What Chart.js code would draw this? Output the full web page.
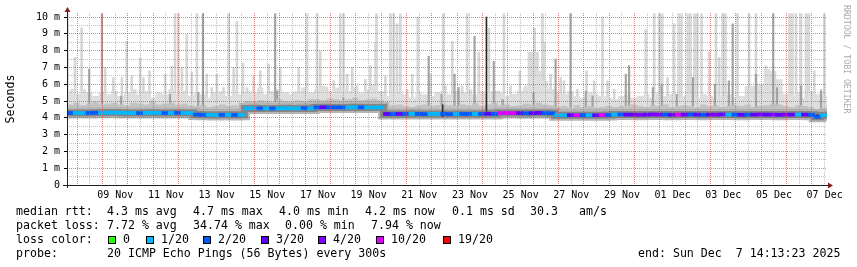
<!DOCTYPE html>
<html>
<head>
<meta charset="utf-8">
<script src="https://cdn.jsdelivr.net/npm/chart.js@4/dist/chart.umd.min.js"></script>
<style>
  body { margin: 0; background: #fff; }
  #wrap { position: relative; width: 857px; height: 267px; font-family: 'DejaVu Sans Mono', monospace; color: #000; }
  #chart { position: absolute; left: 0; top: 0; }
  .t { position: absolute; font-size: 11.6px; line-height: 14px; white-space: pre; }
  .box { position: absolute; top: 236px; width: 6px; height: 6px; border: 1px solid #000; }
  #mark { position: absolute; left: 842px; top: 5px; writing-mode: vertical-rl; font-size: 8.2px; line-height: 10px; color: #aaa; white-space: pre; }
</style>
</head>
<body>
<div id="wrap">
  <canvas id="chart" width="857" height="267"></canvas>
  <div id="mark">RRDTOOL / TOBI OETIKER</div>

  <span class="t" style="left:16px;top:204px">median rtt:</span>
  <span class="t" style="left:107px;top:204px">4.3 ms avg</span>
  <span class="t" style="left:193px;top:204px">4.7 ms max</span>
  <span class="t" style="left:279px;top:204px">4.0 ms min</span>
  <span class="t" style="left:365px;top:204px">4.2 ms now</span>
  <span class="t" style="left:452px;top:204px">0.1 ms sd</span>
  <span class="t" style="left:530px;top:204px">30.3</span>
  <span class="t" style="left:579px;top:204px">am/s</span>

  <span class="t" style="left:16px;top:218px">packet loss:</span>
  <span class="t" style="left:107px;top:218px">7.72 % avg</span>
  <span class="t" style="left:193px;top:218px">34.74 % max</span>
  <span class="t" style="left:285px;top:218px">0.00 % min</span>
  <span class="t" style="left:371px;top:218px">7.94 % now</span>

  <span class="t" style="left:16px;top:232px">loss color:</span>
  <div id="lossLegend"></div>

  <span class="t" style="left:16px;top:246px">probe:</span>
  <span class="t" style="left:107px;top:246px">20 ICMP Echo Pings (56 Bytes) every 300s</span>
  <span class="t" style="left:638px;top:246px">end: Sun Dec  7 14:13:23 2025</span>
</div>

<script>
// time axis: days after 07 Nov 00:00; samples every 6 h from 07 Nov 14:13
const startDay = 0.593;
const endDay = 30.593;
const stepDays = 0.25;

const xTickLabels = ['09 Nov', '11 Nov', '13 Nov', '15 Nov', '17 Nov', '19 Nov', '21 Nov', '23 Nov',
  '25 Nov', '27 Nov', '29 Nov', '01 Dec', '03 Dec', '05 Dec', '07 Dec'];
const firstLabelDay = 2.5; // noon of 09 Nov
const yTickLabels = ['0', '1 m', '2 m', '3 m', '4 m', '5 m', '6 m', '7 m', '8 m', '9 m', '10 m'];

// median rtt (ms), one value per 6 h
const medianRtt = [
  4.29, 4.29, 4.28, 4.29, 4.30, 4.30, 4.31, 4.31, 4.30, 4.29,
  4.29, 4.28, 4.29, 4.30, 4.29, 4.28, 4.29, 4.30, 4.29, 4.28,
  4.19, 4.18, 4.18, 4.17, 4.18, 4.18, 4.17, 4.18,
  4.56, 4.57, 4.56, 4.56, 4.55, 4.56, 4.57, 4.56, 4.56, 4.57, 4.56,
  4.62, 4.63, 4.62, 4.62, 4.61, 4.62, 4.63, 4.62, 4.62, 4.61, 4.62,
  4.23, 4.22, 4.23, 4.23, 4.24, 4.23, 4.22, 4.23, 4.23, 4.23,
  4.22, 4.22, 4.23, 4.23, 4.22, 4.23, 4.24, 4.23,
  4.28, 4.29, 4.28, 4.28, 4.27, 4.28, 4.29, 4.28, 4.27,
  4.16, 4.15, 4.16, 4.15, 4.16, 4.15, 4.15, 4.16, 4.17,
  4.19, 4.20, 4.19, 4.19, 4.18, 4.19, 4.20, 4.19, 4.19, 4.18,
  4.19, 4.19, 4.20, 4.19, 4.18, 4.19, 4.19, 4.20, 4.19, 4.19,
  4.18, 4.19, 4.19, 4.20, 4.19, 4.19, 4.18, 4.19, 4.19, 4.20, 4.19,
  4.18, 4.06, 4.15, 4.15
];

// lost pings out of 20 for each 6 h step
const medianLoss = [
  2, 1, 1, 2, 2, 1, 1, 1, 1, 1,
  1, 2, 1, 1, 1, 2, 1, 2, 1, 1,
  2, 2, 1, 1, 2, 1, 2, 1, 1, 1,
  2, 1, 2, 1, 1, 1, 1, 2, 1, 2,
  3, 2, 2, 2, 1, 1, 2, 1, 1, 1,
  3, 2, 3, 2, 1, 2, 2, 1, 1, 2,
  2, 1, 2, 2, 1, 2, 3, 2, 10, 10,
  10, 3, 2, 3, 3, 2, 2, 1, 1, 3,
  10, 2, 1, 3, 10, 2, 1, 2, 3, 3,
  4, 3, 4, 4, 2, 3, 10, 3, 2, 3,
  2, 3, 4, 3, 1, 2, 3, 2, 3, 4,
  3, 4, 3, 4, 3, 1, 3, 2, 2, 1
];

// smoke: denser (darker) part and light part, top edge per 6 h (ms)
const smokeMid = [
  4.80, 4.90, 4.75, 4.85, 4.95, 4.80, 4.85, 4.90, 4.80, 4.75,
  4.90, 4.85, 4.80, 4.95, 4.80, 4.85, 4.90, 4.80, 4.85, 4.75,
  4.70, 4.75, 4.65, 4.70, 4.80, 4.70, 4.75, 4.70,
  5.00, 4.95, 5.05, 5.00, 4.95, 5.10, 5.00, 4.95, 5.05, 5.00, 5.10,
  5.10, 5.05, 5.15, 5.10, 5.05, 5.10, 5.20, 5.05, 5.10, 5.15, 5.05,
  4.70, 4.75, 4.80, 4.70, 4.65, 4.75, 4.80, 4.70, 4.75, 4.80,
  4.75, 4.70, 4.80, 4.75, 4.85, 4.70, 4.80, 4.90, 4.75, 4.80, 4.70, 4.75, 4.85, 4.80, 4.90, 4.80, 4.75,
  4.65, 4.70, 4.60, 4.75, 4.65, 4.70, 4.60, 4.65, 4.70,
  4.65, 4.70, 4.75, 4.80, 4.70, 4.65, 4.75, 4.70, 4.80, 4.65,
  4.70, 4.75, 4.70, 4.65, 4.80, 4.70, 4.75, 4.65, 4.70, 4.75,
  4.70, 4.80, 4.65, 4.70, 4.75, 4.85, 4.80, 4.70, 4.65, 4.75, 4.70,
  4.65, 4.50, 4.60, 4.60
];
const smokeUpper = [
  5.6, 5.4, 5.7, 5.5, 5.3, 5.5, 5.4, 5.6, 5.3, 5.5,
  5.7, 5.4, 5.6, 5.2, 5.5, 5.4, 5.7, 5.5, 5.6, 5.3,
  5.5, 5.4, 5.2, 5.5, 5.6, 5.3, 5.7, 5.4,
  5.6, 5.5, 5.8, 5.4, 5.6, 5.7, 5.5, 5.4, 5.6, 5.8, 5.5,
  5.7, 5.9, 5.6, 5.8, 5.7, 5.6, 5.8, 5.5, 5.7, 6.0, 5.6,
  5.3, 5.5, 5.6, 5.4, 5.2, 5.5, 5.4, 5.3, 5.5, 5.6,
  5.4, 5.6, 5.5, 5.7, 5.4, 5.6, 5.5, 5.6, 5.5, 5.3,
  5.4, 5.6, 5.8, 6.5, 6.8, 6.2, 5.7, 5.5,
  5.4, 5.6, 5.3, 5.2, 5.5, 5.4, 5.3,
  5.2, 5.1, 5.3, 5.4, 5.2, 5.3, 5.4, 5.2, 5.5, 5.3,
  5.4, 5.2, 5.3, 5.5, 5.2, 5.4, 5.3, 5.2, 5.3, 5.4,
  5.2, 5.3, 5.9, 5.9, 6.0, 6.9, 6.8, 6.3,
  5.4, 5.3, 5.5, 5.2, 5.6, 5.4, 5.3, 5.2
];

// single outlier pings (day, top in ms)
const lightSpikeDay = [
  0.61, 0.78, 0.91, 1.17, 2.10, 2.42, 2.76, 2.95, 3.15, 3.48, 3.61, 3.85, 4.14, 4.47, 4.73, 4.86, 4.99,
  5.13, 5.32, 5.52, 5.72, 6.11, 6.31, 6.51, 6.77, 6.97, 7.17, 7.30, 7.54, 7.70, 7.96, 8.22, 8.55, 9.01,
  9.28, 9.54, 9.74, 10.07, 10.46, 10.59, 10.86, 11.12, 11.38, 11.51, 11.65, 11.85, 12.04, 12.37, 12.57,
  12.77, 12.81, 13.03, 13.16, 13.36, 13.49, 13.62, 13.75, 14.02, 14.22, 14.44, 14.68, 14.94, 15.21,
  15.44, 15.53, 15.80, 16.00, 16.19, 16.39, 16.85, 17.25, 17.64, 17.84, 18.10, 18.30, 18.47, 18.70,
  19.05, 19.16, 19.36, 19.42, 19.68, 20.08, 20.21, 20.74, 21.10, 21.40, 21.73, 21.93, 22.19, 23.44,
  23.77, 24.30, 24.56, 25.64, 25.94, 26.21, 26.34, 27.06, 27.52, 27.79, 28.18, 28.78, 29.37, 29.57,
  30.09, 30.36, 30.49
];
const lightSpikeTop = [
  10.2, 5.7, 7.6, 9.35, 7.0, 6.4, 6.4, 8.55, 6.5, 7.56, 6.4, 6.8, 5.4, 6.6, 7.06, 10.2, 10.2,
  7.0, 8.95, 6.7, 10.2, 6.6, 5.8, 6.6, 5.8, 10.2, 7.0, 9.74, 7.26, 5.8, 6.5, 6.8, 7.2, 7.0,
  5.5, 5.5, 7.0, 10.2, 10.2, 7.96, 5.8, 6.2, 10.2, 10.2, 6.6, 7.0, 5.9, 6.3, 7.1,
  8.5, 10.2, 5.4, 6.5, 10.2, 10.2, 9.6, 10.2, 5.7, 6.6, 10.0, 5.3, 6.6, 5.5,
  10.2, 5.9, 8.55, 5.6, 5.9, 10.2, 7.9, 9.35, 5.6, 10.2, 5.9, 5.4, 6.8, 5.9,
  9.35, 7.9, 10.2, 8.5, 6.6, 6.4, 6.2, 5.7, 6.8, 6.2, 10.0, 6.2, 5.7, 9.25,
  10.2, 6.4, 9.6, 10.2, 7.9, 10.2, 7.6, 10.2, 10.2, 10.2, 7.1, 6.0, 10.2, 10.2,
  6.8, 5.7, 10.2
];
const wideSpikeDay = [18.89, 24.03, 24.79, 25.15, 25.42, 26.53, 29.17, 29.82];
const wideSpikeTop = [7.9, 10.2, 10.2, 10.2, 10.2, 10.2, 10.2, 10.2];
const midSpikeDay = [
  1.47, 1.97, 2.73, 3.95, 4.66, 5.77, 5.96, 8.81, 8.89, 11.50, 14.87, 15.38, 15.89, 16.05, 16.68,
  17.44, 17.79, 19.01, 19.88, 20.47, 21.07, 21.34, 22.65, 22.78, 23.72, 24.07, 24.66, 25.30, 26.17,
  26.72, 26.87, 27.79, 28.47, 28.62, 29.57, 30.36
];
const midSpikeTop = [
  6.9, 10.2, 5.3, 5.0, 5.4, 5.5, 10.2, 10.2, 5.6, 5.2, 7.66, 5.4, 6.6, 5.8, 8.85,
  7.36, 5.1, 5.5, 7.5, 10.2, 5.6, 5.3, 6.6, 7.1, 5.8, 6.0, 5.4, 6.4, 6.0,
  6.2, 9.6, 6.6, 10.2, 5.8, 5.9, 5.6
];
const darkSpikeDay = [15.42, 17.15, 30.21];
const darkSpikeLow = [4.08, 4.40, 3.97];
const darkSpikeHigh = [4.78, 10.0, 4.20];

const lossSteps = [0, 1, 2, 3, 4, 10, 19];
const lossLabels = ['0', '1/20', '2/20', '3/20', '4/20', '10/20', '19/20'];
const lossColors = ['#26ff00', '#00b8ff', '#0059ff', '#5e00ff', '#7e00ff', '#dd00ff', '#ff0000'];

function lossColor(n) {
  let c = lossColors[0];
  lossSteps.forEach((s, k) => { if (n >= s) c = lossColors[k]; });
  return c;
}

// legend boxes
const boxLeft = [108, 146, 203, 261, 318, 376, 443];
const legendEl = document.getElementById('lossLegend');
lossLabels.forEach((lab, k) => {
  const b = document.createElement('div');
  b.className = 'box';
  b.style.left = boxLeft[k] + 'px';
  b.style.background = lossColors[k];
  legendEl.appendChild(b);
  const s = document.createElement('span');
  s.className = 't';
  s.style.left = (boxLeft[k] + 15) + 'px';
  s.style.top = '232px';
  s.textContent = lab;
  legendEl.appendChild(s);
});

const sampleDays = medianRtt.map((_, i) => startDay + i * stepDays);
const pts = arr => arr.map((v, i) => ({ x: sampleDays[i], y: v }));
const bars = (days, tops) => days.map((d, i) => ({ x: d, y: tops[i] }));
// median drawn as one short coloured piece per 6 h step
const medianPieces = medianLoss.map((_, i) => ({
  x: sampleDays[i] + stepDays / 2,
  y: [medianRtt[i] - 0.09, medianRtt[i] + 0.09]
}));

const majorGrid = 'rgba(225,70,70,0.7)';
const minorGrid = 'rgba(143,143,143,0.55)';
const isMajor = c => c.tick && Number.isInteger(c.tick.value);

const axisArrows = {
  id: 'axisArrows',
  afterDraw(chart) {
    const { ctx, chartArea: a } = chart;
    ctx.save();
    ctx.strokeStyle = '#1f1f1f';
    ctx.lineWidth = 1;
    ctx.beginPath();
    ctx.moveTo(a.left - 4, a.bottom + 0.5);
    ctx.lineTo(a.right + 3, a.bottom + 0.5);
    ctx.moveTo(a.left + 0.5, a.bottom + 3);
    ctx.lineTo(a.left + 0.5, a.top - 4);
    ctx.stroke();
    ctx.fillStyle = '#801f1f';
    ctx.beginPath();
    ctx.moveTo(a.right + 1, a.bottom - 2.5);
    ctx.lineTo(a.right + 6, a.bottom + 0.5);
    ctx.lineTo(a.right + 1, a.bottom + 3.5);
    ctx.fill();
    ctx.beginPath();
    ctx.moveTo(a.left - 2.5, a.top - 1);
    ctx.lineTo(a.left + 0.5, a.top - 6);
    ctx.lineTo(a.left + 3.5, a.top - 1);
    ctx.fill();
    ctx.restore();
  }
};

Chart.defaults.font.family = "'DejaVu Sans Mono', monospace";
Chart.defaults.color = '#000';

const noLine = 'rgba(0,0,0,0)';

new Chart(document.getElementById('chart'), {
  type: 'line',
  data: {
    datasets: [
      { type: 'bar', label: 'median', data: medianPieces, barThickness: 6.6, grouped: false,
        backgroundColor: c => lossColor(medianLoss[c.dataIndex]), order: 0 },
      { type: 'bar', label: 'dark', data: darkSpikeDay.map((d, i) => ({ x: d, y: [darkSpikeLow[i], darkSpikeHigh[i]] })),
        backgroundColor: '#2a2a2a', barThickness: 1, grouped: false, order: 1 },
      { label: 'band inner', data: pts(medianRtt), stepped: true, borderWidth: 7, borderColor: '#858585',
        backgroundColor: '#858585', pointRadius: 0, fill: false, order: 2 },
      { label: 'band outer', data: pts(medianRtt), stepped: true, borderWidth: 11, borderColor: '#b5b5b5',
        backgroundColor: '#b5b5b5', pointRadius: 0, fill: false, order: 3 },
      { label: 'mid smoke', data: pts(smokeMid), stepped: true, borderWidth: 0, borderColor: noLine,
        backgroundColor: '#c2c2c2', fill: 2, pointRadius: 0, order: 4 },
      { type: 'bar', label: 'mid spikes', data: bars(midSpikeDay, midSpikeTop), base: 4.4,
        backgroundColor: '#a3a3a3', barThickness: 1.5, grouped: false, order: 5 },
      { label: 'light smoke', data: pts(smokeUpper), stepped: true, borderWidth: 0, borderColor: noLine,
        backgroundColor: '#dedede', fill: 2, pointRadius: 0, order: 6 },
      { type: 'bar', label: 'wide spikes', data: bars(wideSpikeDay, wideSpikeTop), base: 4.4,
        backgroundColor: '#d9d9d9', barThickness: 5, grouped: false, order: 7 },
      { type: 'bar', label: 'light spikes', data: bars(lightSpikeDay, lightSpikeTop), base: 4.4,
        backgroundColor: '#d6d6d6', barThickness: 2, grouped: false, order: 8 }
    ]
  },
  options: {
    responsive: false,
    devicePixelRatio: 1,
    animation: false,
    layout: { padding: { left: 0, top: 13, right: 30, bottom: 62 } },
    plugins: { legend: { display: false }, tooltip: { enabled: false } },
    scales: {
      x: {
        type: 'linear', min: startDay, max: endDay, offset: false,
        afterBuildTicks: s => {
          const t = [];
          for (let d = 1; d <= 30.5; d += 0.5) t.push({ value: d });
          s.ticks = t;
        },
        afterFit: s => { s.height = 20; },
        grid: { z: 1, offset: false, drawTicks: false, lineWidth: 1,
          color: c => isMajor(c) ? majorGrid : minorGrid },
        border: { display: false, dash: [1, 1] },
        ticks: {
          autoSkip: false, maxRotation: 0, minRotation: 0, padding: 4,
          font: { size: 10 },
          callback: v => {
            const k = (v - firstLabelDay) / 2;
            return Number.isInteger(k) && k >= 0 && k < xTickLabels.length ? xTickLabels[k] : '';
          }
        }
      },
      y: {
        type: 'linear', min: 0, max: 10.24,
        afterBuildTicks: s => {
          const t = [];
          for (let v = 0; v <= 10; v += 0.5) t.push({ value: v });
          s.ticks = t;
        },
        afterFit: s => { s.width = 67; },
        grid: { z: 1, drawTicks: true, tickLength: 3, tickBorderDash: [], lineWidth: 1,
          color: c => isMajor(c) ? majorGrid : minorGrid,
          tickColor: c => isMajor(c) ? '#000' : noLine },
        border: { display: false, dash: [1, 1] },
        title: { display: true, text: 'Seconds', font: { size: 11.6 }, padding: { top: 4, bottom: 0 } },
        ticks: {
          autoSkip: false, padding: 4, font: { size: 10 },
          callback: v => Number.isInteger(v) ? yTickLabels[v] : ''
        }
      }
    }
  },
  plugins: [axisArrows]
});
</script>
</body>
</html>
